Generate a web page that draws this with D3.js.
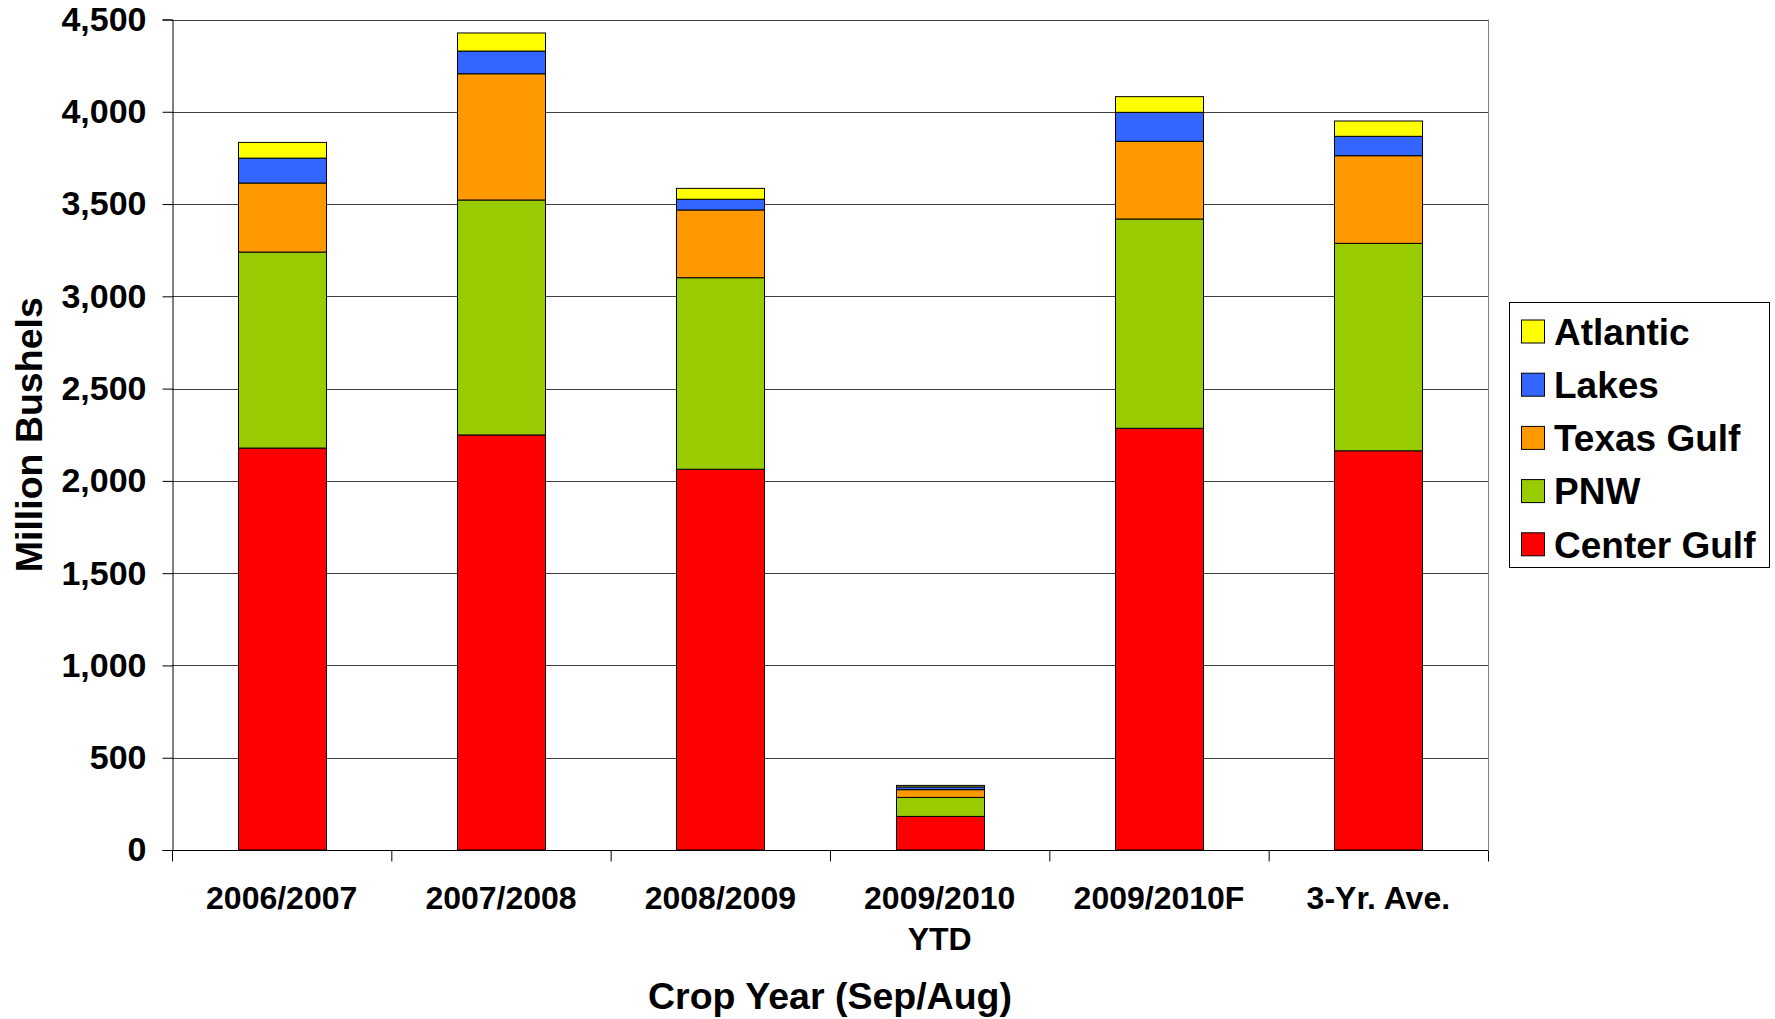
<!DOCTYPE html>
<html>
<head>
<meta charset="utf-8">
<script src="https://cdn.jsdelivr.net/npm/d3@7"></script>
<style>
    body { margin: 0; background: #fff; }
    svg { display: block; font-family: "Liberation Sans", Arial, sans-serif; font-weight: bold; }
</style>
</head>
<body>
<svg></svg>
<script>

let categories = [["2006/2007"], ["2007/2008"], ["2008/2009"], ["2009/2010", "YTD"], ["2009/2010F"], ["3-Yr. Ave."]]

// million bushels
let centerGulf = [2178, 2249, 2063, 182, 2285, 2163]
let pnw = [1062, 1273, 1038, 103, 1134, 1124]
let texasGulf = [374, 684, 367, 42, 421, 475]
let lakes = [135, 123, 58, 15, 157, 105]
let atlantic = [85, 98, 59, 8, 85, 83]

let seriesNames = ["Center Gulf", "PNW", "Texas Gulf", "Lakes", "Atlantic"]
let seriesColors = ["#ff0000", "#99cc00", "#ff9900", "#3366ff", "#ffff00"]
let yTicks = [0, 500, 1000, 1500, 2000, 2500, 3000, 3500, 4000, 4500]

let width = 1775
let height = 1019
let plotLeft = 172
let plotRight = 1488
let plotTop = 19.5
let plotBottom = 850

let svg = d3.select('svg')
svg.attr('width', width)
   .attr('height', height)

let keys = categories.map((c) => c.join(' '))

// build rows for the stack
let rows = keys.map((k, i) => {
    return {
        key: k,
        "Center Gulf": centerGulf[i],
        "PNW": pnw[i],
        "Texas Gulf": texasGulf[i],
        "Lakes": lakes[i],
        "Atlantic": atlantic[i]
    }
})

let stacked = d3.stack().keys(seriesNames)(rows)

let xScale = d3.scaleBand()
               .domain(keys)
               .range([plotLeft, plotRight])
               .paddingInner(0.6)
               .paddingOuter(0.3)

let edgeScale = d3.scaleLinear()
                  .domain([0, keys.length])
                  .range([plotLeft, plotRight])

let yScale = d3.scaleLinear()
               .domain([0, 4500])
               .range([plotBottom, plotTop])

// gridlines
svg.append('g')
    .selectAll('line')
    .data(yTicks.slice(1))
    .enter()
    .append('line')
    .attr('x1', plotLeft)
    .attr('x2', plotRight)
    .attr('y1', (d) => Math.round(yScale(d)) + 0.5)
    .attr('y2', (d) => Math.round(yScale(d)) + 0.5)
    .attr('stroke', '#404040')
    .attr('stroke-width', 1)

// right border of the plot
svg.append('line')
    .attr('x1', plotRight + 0.5)
    .attr('x2', plotRight + 0.5)
    .attr('y1', yScale(4500))
    .attr('y2', plotBottom)
    .attr('stroke', '#808080')

// bars
svg.append('g')
    .selectAll('g')
    .data(stacked)
    .enter()
    .append('g')
    .attr('fill', (d, i) => seriesColors[i])
    .selectAll('rect')
    .data((d) => d)
    .enter()
    .append('rect')
    .attr('x', (d) => Math.round(xScale(d.data.key)) + 0.5)
    .attr('y', (d) => yScale(d[1]))
    .attr('width', Math.round(xScale.bandwidth()))
    .attr('height', (d) => yScale(d[0]) - yScale(d[1]))
    .attr('stroke', '#000')
    .attr('stroke-width', 1)

// y axis
let yAxis = d3.axisLeft(yScale)
              .tickValues(yTicks)
              .tickSize(10)
              .tickPadding(16)
              .tickFormat(d3.format(','))

svg.append('g')
    .attr('transform', 'translate(' + (plotLeft + 0.5) + ',0)')
    .call(yAxis)
    .call((g) => g.select('.domain').attr('stroke', '#000'))
    .call((g) => g.selectAll('.tick line').attr('stroke', '#000'))
    .call((g) => g.selectAll('.tick text')
        .attr('font-size', 34)
        .attr('font-family', '"Liberation Sans", Arial, sans-serif')
        .attr('font-weight', 'bold')
        .attr('fill', '#000'))

// x axis tick marks between the categories
let xEdges = d3.axisBottom(edgeScale)
               .tickValues(d3.range(0, keys.length + 1))
               .tickSize(11)
               .tickFormat('')

svg.append('g')
    .attr('transform', 'translate(0,' + (plotBottom + 0.5) + ')')
    .call(xEdges)
    .call((g) => g.select('.domain').attr('stroke', '#000').attr('d', 'M' + plotLeft + ',0H' + plotRight))
    .call((g) => g.selectAll('.tick line').attr('stroke', '#000'))

// category labels
let xAxis = d3.axisBottom(xScale).tickSize(0).tickFormat('')

let xLabels = svg.append('g')
    .attr('transform', 'translate(0,' + plotBottom + ')')
    .call(xAxis)

xLabels.select('.domain').remove()

xLabels.selectAll('.tick')
    .append('text')
    .attr('text-anchor', 'middle')
    .attr('font-size', 32)
    .attr('fill', '#000')
    .selectAll('tspan')
    .data((d, i) => categories[i])
    .enter()
    .append('tspan')
    .attr('x', 0)
    .attr('y', (d, i) => 59 + i * 41)
    .text((d) => d)

// axis titles
svg.append('text')
    .attr('x', (plotLeft + plotRight) / 2)
    .attr('y', 1009)
    .attr('text-anchor', 'middle')
    .attr('font-size', 37.5)
    .text('Crop Year (Sep/Aug)')

svg.append('text')
    .attr('transform', 'translate(42,' + (plotTop + plotBottom) / 2 + ') rotate(-90)')
    .attr('text-anchor', 'middle')
    .attr('font-size', 37.5)
    .text('Million Bushels')

// legend
let legend = svg.append('g').attr('transform', 'translate(1509,302)')

legend.append('rect')
    .attr('x', 0.5)
    .attr('y', 0.5)
    .attr('width', 260)
    .attr('height', 265)
    .attr('fill', '#fff')
    .attr('stroke', '#000')

let legendOrder = seriesNames.slice().reverse()

let items = legend.selectAll('.item')
    .data(legendOrder)
    .enter()
    .append('g')
    .attr('class', 'item')
    .attr('transform', (d, i) => 'translate(12,' + (29.5 + i * 53.2) + ')')

items.append('rect')
    .attr('x', 0.5)
    .attr('y', -11.5)
    .attr('width', 23)
    .attr('height', 23)
    .attr('fill', (d) => seriesColors[seriesNames.indexOf(d)])
    .attr('stroke', '#000')

items.append('text')
    .attr('x', 33)
    .attr('dy', '0.36em')
    .attr('font-size', 37)
    .text((d) => d)

</script>
</body>
</html>
